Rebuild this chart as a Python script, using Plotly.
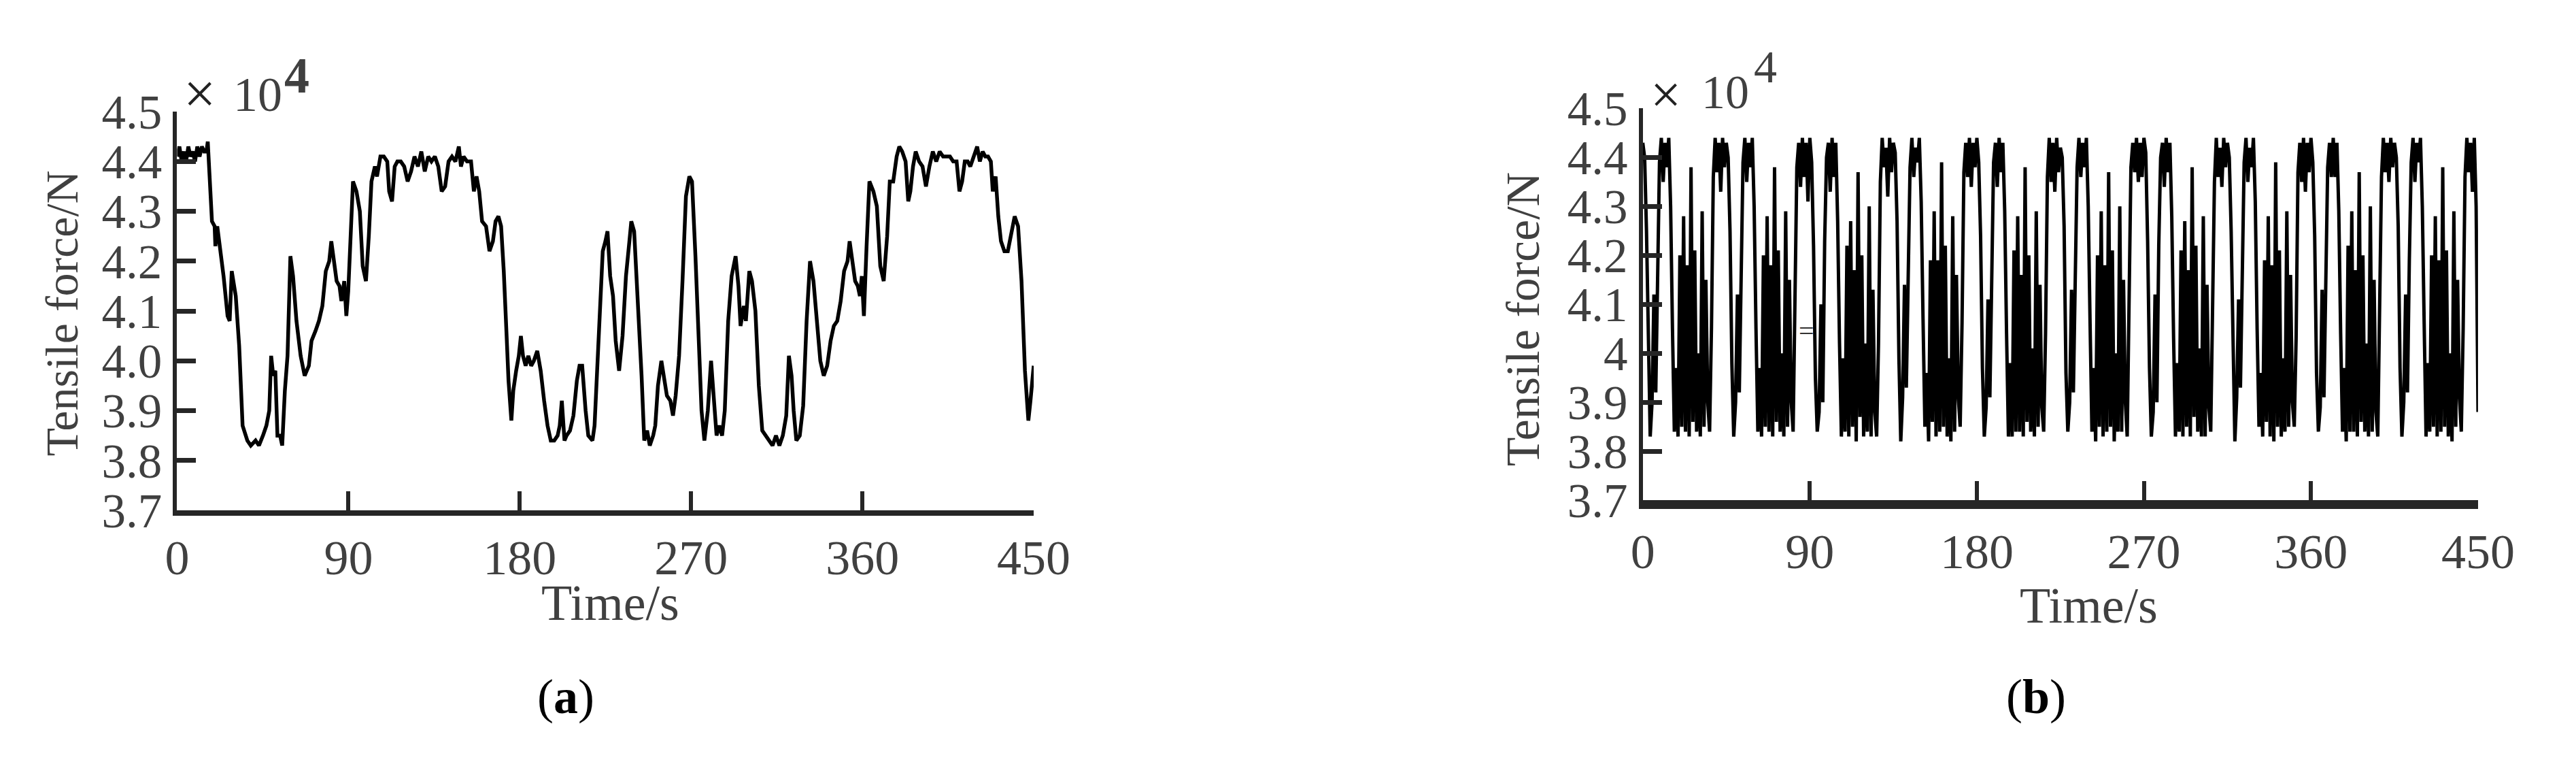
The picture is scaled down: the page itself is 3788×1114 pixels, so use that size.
import numpy as np
import plotly.graph_objects as go

W, H = 3788, 1114

# ---------------- data (force in units of 10^4 N) ----------------
a_time = [0, 1.2, 2.4, 3.6, 4.7, 5.9, 7.0, 8.2, 9.4, 10.6, 11.8, 13.0, 14.2, 15.4, 16.1,
          17.2, 18.3, 19.7, 20.1, 21.1, 22.6, 24.4, 26.5, 27.6, 28.7, 29.7, 30.8, 32.6, 34.4,
          36.9, 38.7, 41.2, 43.0, 45.1, 46.9, 48.4, 49.4, 50.5, 51.6, 52.7, 54.1, 55.2, 56.6,
          58.0, 59.5, 60.9, 62.7, 64.9, 67.0, 69.2, 70.6, 72.7, 74.5, 76.3, 78.1, 79.9, 81.0,
          82.4, 83.8, 85.3, 86.3, 87.8, 88.9, 89.9, 91.4, 92.4, 94.2, 96.0, 97.5, 99.2, 100.7,
          102.1, 103.9, 105.0, 106.8, 108.6, 110.4, 111.4, 112.9, 114.3, 115.7, 117.5, 119.3,
          121.1, 122.9, 124.7, 126.5, 128.3, 130.1, 131.9, 133.6, 135.4, 137.2, 139.0, 140.8,
          142.6, 144.4, 146.2, 148.0, 149.1, 150.5, 152.3, 154.4, 155.9, 157.3, 158.7, 160.2,
          162.3, 164.1, 165.9, 167.3, 168.8, 170.2, 171.6, 173.1, 174.1, 175.6, 176.6, 178.1,
          179.5, 180.6, 181.7, 183.1, 184.5, 186.0, 187.4, 189.2, 191.0, 192.8, 194.6, 196.3,
          198.1, 199.9, 201.0, 202.1, 203.5, 204.6, 206.4, 208.2, 210.0, 211.4, 212.8, 214.6,
          216.0, 218.2, 219.3, 220.4, 221.8, 223.6, 225.0, 226.1, 227.5, 229.0, 230.4, 232.2,
          234.0, 235.8, 237.6, 238.6, 240.1, 241.5, 242.9, 244.0, 245.4, 246.9, 248.3, 250.1,
          251.2, 252.6, 254.4, 256.2, 257.3, 259.1, 260.5, 261.9, 263.7, 265.5, 267.3, 269.1,
          270.5, 272.3, 274.1, 275.5, 277.0, 278.8, 280.5, 282.0, 283.4, 284.8, 286.3, 287.7,
          289.5, 291.3, 293.4, 294.9, 296.0, 297.7, 298.8, 300.6, 302.0, 303.8, 305.6, 307.4,
          309.2, 311.0, 312.8, 314.6, 316.4, 318.2, 320.0, 321.4, 322.8, 323.9, 325.3, 327.1,
          328.9, 330.7, 332.5, 334.3, 336.1, 337.9, 339.7, 341.5, 343.3, 345.0, 346.8, 348.6,
          350.4, 352.2, 353.3, 354.7, 356.2, 357.6, 358.7, 359.7, 360.8, 362.2, 363.7, 365.8,
          367.6, 369.4, 371.2, 373.0, 374.4, 376.2, 378.0, 379.4, 380.9, 382.7, 384.1, 385.2,
          386.6, 388.0, 389.8, 391.6, 393.4, 395.2, 397.0, 398.8, 400.6, 402.4, 404.2, 406.0,
          407.7, 409.5, 411.0, 412.4, 413.8, 415.3, 416.7, 418.5, 420.3, 421.7, 423.2, 424.6,
          426.0, 427.5, 428.5, 430.0, 431.4, 432.8, 434.6, 436.4, 438.2, 440.0, 441.8, 443.6,
          445.4, 447.2, 448.3, 450.0]
a_force = [4.41, 4.43, 4.40, 4.42, 4.40, 4.43, 4.41, 4.42, 4.40, 4.43, 4.41, 4.43, 4.42, 4.42, 4.44,
           4.36, 4.28, 4.27, 4.23, 4.27, 4.23, 4.17, 4.09, 4.08, 4.18, 4.16, 4.13, 4.03, 3.87,
           3.84, 3.83, 3.84, 3.83, 3.85, 3.87, 3.90, 4.01, 3.97, 3.98, 3.85, 3.85, 3.83, 3.94,
           4.01, 4.21, 4.17, 4.08, 4.01, 3.97, 3.99, 4.04, 4.06, 4.08, 4.11, 4.18, 4.20, 4.24,
           4.20, 4.16, 4.15, 4.12, 4.16, 4.09, 4.14, 4.26, 4.36, 4.34, 4.30, 4.19, 4.16, 4.25,
           4.36, 4.39, 4.37, 4.41, 4.41, 4.40, 4.34, 4.32, 4.39, 4.40, 4.40, 4.39,
           4.36, 4.38, 4.41, 4.39, 4.42, 4.38, 4.41, 4.40, 4.41, 4.39, 4.34, 4.35,
           4.40, 4.41, 4.40, 4.43, 4.39, 4.41, 4.40, 4.40, 4.34, 4.37, 4.34, 4.28,
           4.27, 4.22, 4.24, 4.28, 4.29, 4.27, 4.18, 4.05, 3.96, 3.88, 3.94, 3.98,
           4.01, 4.05, 4.01, 3.99, 4.01, 3.99, 4.00, 4.02, 3.98, 3.92, 3.87, 3.84,
           3.84, 3.85, 3.87, 3.92, 3.84, 3.85, 3.86, 3.89, 3.96, 3.99, 3.99, 3.90,
           3.85, 3.84, 3.87, 3.96, 4.08, 4.22, 4.24, 4.26, 4.17, 4.13, 4.04, 3.98,
           4.05, 4.17, 4.24, 4.28, 4.26, 4.16, 4.08, 3.97, 3.84, 3.86, 3.83, 3.85,
           3.87, 3.95, 4.00, 3.95, 3.93, 3.92, 3.89, 3.93, 4.01, 4.16, 4.33, 4.37,
           4.36, 4.21, 4.03, 3.90, 3.84, 3.90, 4.00, 3.93, 3.85, 3.87, 3.85, 3.90,
           4.08, 4.17, 4.21, 4.15, 4.07, 4.11, 4.08, 4.18, 4.16, 4.10, 3.95, 3.86,
           3.85, 3.84, 3.83, 3.85, 3.83, 3.85, 3.89, 4.01, 3.97, 3.90, 3.84, 3.85,
           3.91, 4.08, 4.20, 4.16, 4.08, 4.00, 3.97, 3.99, 4.04, 4.07, 4.08, 4.12,
           4.18, 4.20, 4.24, 4.20, 4.16, 4.15, 4.13, 4.17, 4.09, 4.23, 4.36, 4.34,
           4.31, 4.19, 4.16, 4.25, 4.36, 4.36, 4.41, 4.43, 4.42, 4.40, 4.32, 4.34,
           4.39, 4.42, 4.40, 4.39, 4.35, 4.39, 4.42, 4.40, 4.42, 4.41, 4.41, 4.41,
           4.40, 4.40, 4.34, 4.36, 4.40, 4.40, 4.39, 4.41, 4.43, 4.40, 4.42, 4.41,
           4.41, 4.40, 4.34, 4.37, 4.29, 4.24, 4.22, 4.22, 4.26, 4.29, 4.27, 4.16,
           3.98, 3.88, 3.92, 3.99]

# panel (b): one sample per second, 0 ... 450 s (read row by row, ~45 s per row)
b_force = [
    4.43, 4.40, 4.25, 3.98, 3.83, 3.90, 4.12, 3.92, 4.20, 4.39, 4.44, 4.35, 4.43, 4.38, 4.44,
    4.30, 4.05, 3.84, 3.97, 3.83, 4.20, 3.85, 4.28, 3.84, 4.18, 3.83, 4.38, 3.86, 4.21, 3.84,
    4.00, 3.83, 4.29, 3.85, 4.15, 3.90, 3.84,
    4.05, 4.36, 4.44, 4.37, 4.43, 4.33, 4.44, 4.38, 4.43, 4.40, 4.25, 3.98, 3.83, 3.90, 4.12,
    3.92, 4.20, 4.39, 4.44, 4.35, 4.43, 4.38, 4.44, 4.30, 4.05, 3.84, 3.97, 3.83, 4.20, 3.85,
    4.28, 3.84, 4.18, 3.83, 4.38, 3.86, 4.21, 3.84, 4.00, 3.83, 4.29, 3.85, 4.15, 3.90, 3.84,
    4.08, 4.38, 4.43, 4.34, 4.44, 4.36, 4.43, 4.31, 4.44, 4.39, 4.22, 3.95, 3.84, 3.88, 4.10,
    3.90, 4.23, 4.40, 4.43, 4.33, 4.44, 4.36, 4.43, 4.27, 4.02, 3.83, 3.99, 3.84, 4.22, 3.83,
    4.27, 3.85, 4.17, 3.82, 4.37, 3.87, 4.20, 3.83, 4.02, 3.84, 4.30, 3.83, 4.13, 3.88, 3.83,
    4.02, 4.35, 4.44, 4.38, 4.42, 4.32, 4.44, 4.37, 4.43, 4.41, 4.27, 3.99, 3.82, 3.91, 4.14,
    3.93, 4.18, 4.38, 4.44, 4.36, 4.42, 4.39, 4.44, 4.31, 4.07, 3.85, 3.96, 3.82, 4.19, 3.86,
    4.29, 3.83, 4.19, 3.84, 4.39, 3.85, 4.22, 3.83, 3.99, 3.82, 4.28, 3.84, 4.16, 3.91, 3.85,
    4.06, 4.37, 4.43, 4.36, 4.44, 4.34, 4.43, 4.38, 4.44, 4.39, 4.24, 3.97, 3.83, 3.89, 4.11,
    3.91, 4.21, 4.39, 4.43, 4.34, 4.44, 4.37, 4.43, 4.29, 4.04, 3.83, 3.98, 3.83, 4.21, 3.84,
    4.28, 3.84, 4.16, 3.83, 4.38, 3.86, 4.20, 3.84, 4.01, 3.83, 4.29, 3.85, 4.14, 3.89, 3.84,
    4.04, 4.36, 4.44, 4.35, 4.43, 4.33, 4.44, 4.37, 4.42, 4.40, 4.26, 3.96, 3.84, 3.90, 4.13,
    3.92, 4.19, 4.38, 4.44, 4.36, 4.43, 4.38, 4.44, 4.30, 4.06, 3.84, 3.97, 3.82, 4.20, 3.85,
    4.29, 3.83, 4.18, 3.84, 4.37, 3.85, 4.21, 3.82, 4.00, 3.84, 4.30, 3.84, 4.15, 3.90, 3.83,
    4.07, 4.38, 4.43, 4.37, 4.44, 4.35, 4.43, 4.36, 4.44, 4.41, 4.23, 3.97, 3.83, 3.88, 4.12,
    3.90, 4.22, 4.40, 4.43, 4.34, 4.44, 4.37, 4.43, 4.28, 4.03, 3.83, 3.98, 3.84, 4.21, 3.83,
    4.27, 3.85, 4.17, 3.83, 4.38, 3.87, 4.22, 3.84, 4.01, 3.83, 4.28, 3.83, 4.14, 3.89, 3.84,
    4.05, 4.35, 4.44, 4.36, 4.42, 4.34, 4.44, 4.38, 4.43, 4.40, 4.25, 3.98, 3.82, 3.91, 4.11,
    3.93, 4.20, 4.39, 4.44, 4.35, 4.42, 4.38, 4.44, 4.31, 4.05, 3.85, 3.96, 3.83, 4.19, 3.86,
    4.28, 3.83, 4.18, 3.82, 4.39, 3.85, 4.21, 3.83, 3.99, 3.84, 4.29, 3.85, 4.16, 3.90, 3.85,
    4.03, 4.37, 4.43, 4.35, 4.44, 4.33, 4.43, 4.37, 4.44, 4.39, 4.24, 3.96, 3.84, 3.89, 4.13,
    3.91, 4.21, 4.38, 4.43, 4.36, 4.44, 4.36, 4.43, 4.29, 4.04, 3.84, 3.97, 3.82, 4.22, 3.84,
    4.29, 3.84, 4.17, 3.83, 4.37, 3.86, 4.20, 3.84, 4.02, 3.83, 4.30, 3.84, 4.15, 3.88, 3.83,
    4.06, 4.36, 4.44, 4.37, 4.43, 4.35, 4.44, 4.38, 4.43, 4.40, 4.26, 3.97, 3.83, 3.90, 4.12,
    3.92, 4.19, 4.39, 4.44, 4.35, 4.43, 4.39, 4.44, 4.30, 4.06, 3.83, 3.98, 3.84, 4.20, 3.85,
    4.28, 3.83, 4.19, 3.84, 4.38, 3.85, 4.21, 3.83, 4.00, 3.82, 4.29, 3.85, 4.15, 3.91, 3.84,
    4.05, 4.36, 4.44, 4.37, 4.43, 4.33, 4.44, 4.30, 3.88]
b_time = np.linspace(0, 450, len(b_force))

x_ticks = [0, 90, 180, 270, 360, 450]
y_ticks = [3.7, 3.8, 3.9, 4.0, 4.1, 4.2, 4.3, 4.4, 4.5]
a_ytext = ["3.7", "3.8", "3.9", "4.0", "4.1", "4.2", "4.3", "4.4", "4.5"]
b_ytext = ["3.7", "3.8", "3.9", "4", "4.1", "4.2", "4.3", "4.4", "4.5"]

# ---------------- styling ----------------
FONT = "Liberation Serif"
TXT = "#404040"
AX = "#262626"


def px(x):
    return x / W


def py(y):
    return 1 - y / H


fig = go.Figure()
fig.add_trace(go.Scatter(x=a_time, y=a_force, mode="lines", xaxis="x", yaxis="y",
                         line=dict(color="#000000", width=5.5), showlegend=False))
fig.add_trace(go.Scatter(x=b_time, y=b_force, mode="lines", xaxis="x2", yaxis="y2",
                         line=dict(color="#000000", width=5), showlegend=False))


def xax(domain, anchor, lw):
    return dict(domain=domain, anchor=anchor, range=[0, 450], tickvals=x_ticks,
                ticks="inside", ticklen=28, tickwidth=6, tickcolor=AX,
                showline=True, linecolor=AX, linewidth=lw, showgrid=False, zeroline=False,
                tickfont=dict(family=FONT, size=72, color=TXT), ticklabelstandoff=0)


def yax(domain, anchor, texts):
    return dict(domain=domain, anchor=anchor, range=[3.7, 4.5], tickvals=y_ticks,
                ticktext=texts, ticks="inside", ticklen=28, tickwidth=7, tickcolor=AX,
                showline=True, linecolor=AX, linewidth=6, showgrid=False, zeroline=False,
                tickfont=dict(family=FONT, size=71, color=TXT), ticklabelstandoff=2)


annotations = []


def text(x, y, s, size=70, angle=0, color=TXT, bold=False):
    annotations.append(dict(x=px(x), y=py(y), xref="paper", yref="paper", text=s,
                            showarrow=False, textangle=angle, xanchor="center",
                            yanchor="middle",
                            font=dict(family=FONT, size=size, color=color,
                                      weight="bold" if bold else "normal")))


# panel (a)
text(66, 446, "Tensile force/N", size=68, angle=-90)
text(888, 903, "Time/s", size=74)
text(822, 1052, "(<b>a</b>)", size=72, color="#000000")
text(273, 98, "×", size=84, color="#222222")
text(360, 100, "10", size=72)
text(418, 70, "4", size=74, bold=True)

# panel (b)
text(2256, 455, "Tensile force/N", size=70, angle=-90)
text(3105, 908, "Time/s", size=74)
text(3025, 1052, "(<b>b</b>)", size=72, color="#000000")
text(2470, 100, "×", size=80, color="#222222")
text(2560, 96, "10", size=70)
text(2620, 56, "4", size=68)
text(2681, 474, "=", size=40, color="#333333")

fig.update_layout(
    width=W, height=H, margin=dict(l=0, r=0, t=0, b=0),
    paper_bgcolor="white", plot_bgcolor="white",
    xaxis=xax([px(239), px(1523)], "y", 8),
    yaxis=yax([py(757), py(127)], "x", a_ytext),
    xaxis2=xax([px(2436), px(3688)], "y2", 13),
    yaxis2=yax([py(741), py(122)], "x2", b_ytext),
    annotations=annotations,
)

fig.write_html("out.html")
